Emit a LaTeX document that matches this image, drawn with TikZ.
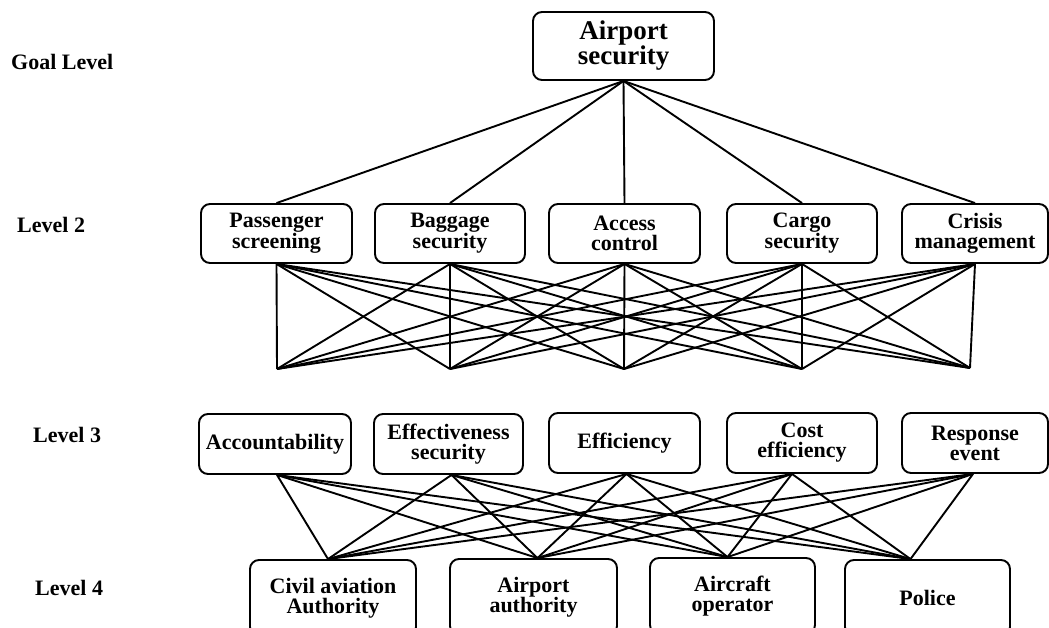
\documentclass[tikz,border=0pt]{standalone}
\usepackage{fontspec}
\setmainfont{Liberation Serif}
\begin{document}
\begin{tikzpicture}[x=1pt,y=-1pt,
  box/.style={draw, rounded corners=9pt, line width=1.9pt, align=center, inner sep=0pt,
    font=\fontsize{22}{20}\selectfont\bfseries},
  goalbox/.style={box, font=\fontsize{27}{25}\selectfont\bfseries},
  lvl/.style={anchor=west, inner sep=0pt, font=\fontsize{22}{24}\selectfont\bfseries},
  link/.style={line width=1.9pt}]
\clip (0,0) rectangle (1049,627);

% level labels
\node[lvl] (lg) at (11,62) {Goal Level};
\node[lvl] (l2) at (17,225) {Level 2};
\node[lvl] (l3) at (33,435) {Level 3};
\node[lvl] (l4) at (35,588) {Level 4};

% goal
\node[goalbox, minimum width=181pt, minimum height=68pt] (goal) at (623.5,46) {Airport\\security};

% level 2
\node[box, minimum width=151pt, minimum height=59pt] (p) at (276.5,233.5) {Passenger\\screening};
\node[box, minimum width=150pt, minimum height=59pt] (b) at (450,233.5) {Baggage\\security};
\node[box, minimum width=151pt, minimum height=59pt] (a) at (624.5,233.5) {Access\\control};
\node[box, minimum width=150pt, minimum height=59pt] (c) at (802,233.5) {Cargo\\security};
\node[box, minimum width=146pt, minimum height=59pt] (r) at (975,233.5) {Crisis\\management};

% level 2 lower junction points
\coordinate (m1) at (277,369);
\coordinate (m2) at (450,369);
\coordinate (m3) at (624,369);
\coordinate (m4) at (802,369);
\coordinate (m5) at (970,368);

% level 3
\node[box, minimum width=152pt, minimum height=60pt] (acc) at (275,444) {Accountability};
\node[box, minimum width=149pt, minimum height=60pt] (eff) at (448.5,444) {Effectiveness\\security};
\node[box, minimum width=151pt, minimum height=60pt] (effi) at (624.5,443) {Efficiency};
\node[box, minimum width=150pt, minimum height=60pt] (cost) at (802,443) {Cost\\efficiency};
\node[box, minimum width=146pt, minimum height=60pt] (resp) at (975,443) {Response\\event};

% level 4
\node[box, minimum width=166pt, minimum height=76pt] (civ) at (333,598) {Civil aviation\\Authority};
\node[box, minimum width=167pt, minimum height=76pt] (apa) at (533.5,597) {Airport\\authority};
\node[box, minimum width=165pt, minimum height=76pt] (acop) at (732.5,596) {Aircraft\\operator};
\node[box, minimum width=165pt, minimum height=76pt] (pol) at (927.5,598) {Police};

% goal to level 2
\foreach \n in {p,b,a,c,r} \draw[link] (goal.south) -- (\n.north);

% level 2 to junction points
\foreach \n in {p,b,a,c,r}
  \foreach \m in {m1,m2,m3,m4,m5}
    \draw[link] (\n.south) -- (\m);

% level 3 to level 4
\coordinate (s1) at ([xshift=2pt]acc.south);
\coordinate (s2) at ([xshift=3pt]eff.south);
\coordinate (s3) at ([xshift=2pt]effi.south);
\coordinate (s4) at ([xshift=-10pt]cost.south);
\coordinate (s5) at ([xshift=-2pt]resp.south);
\coordinate (t1) at ([xshift=-5pt]civ.north);
\coordinate (t2) at ([xshift=4pt]apa.north);
\coordinate (t3) at ([xshift=-5pt]acop.north);
\coordinate (t4) at ([xshift=-17pt]pol.north);
\foreach \s in {s1,s2,s3,s4,s5}
  \foreach \t in {t1,t2,t3,t4}
    \draw[link] (\s) -- (\t);
\end{tikzpicture}
\end{document}
